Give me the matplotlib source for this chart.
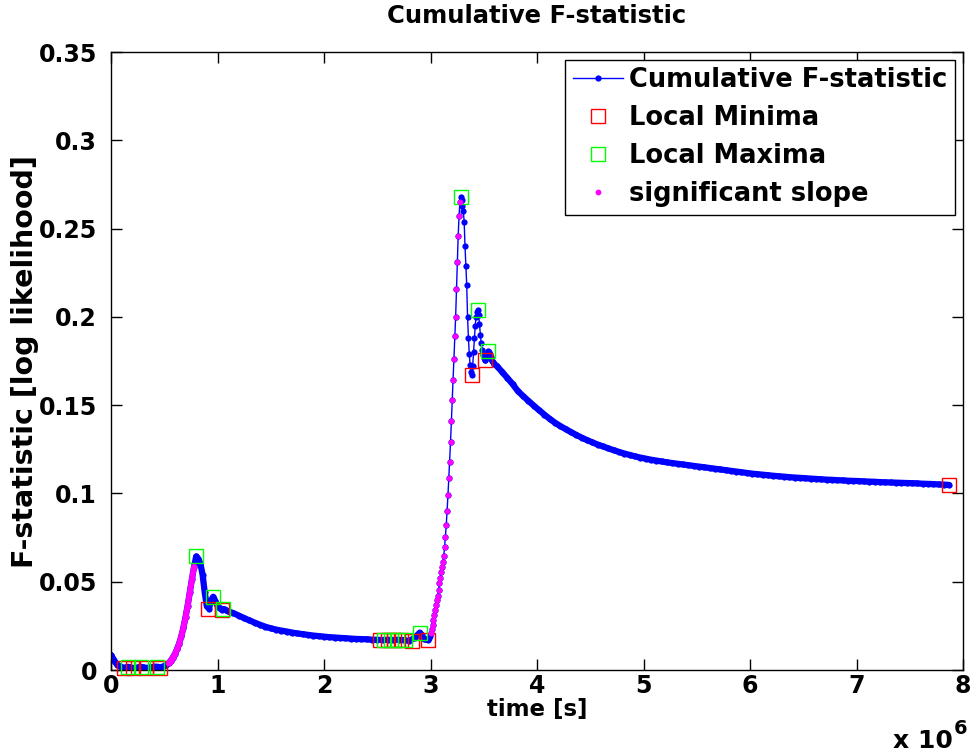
import numpy as np
import matplotlib
matplotlib.use("Agg")
import matplotlib.pyplot as plt

plt.rcParams['font.family'] = ['DejaVu Sans']
plt.rcParams['font.weight'] = 'bold'

# ---------------- data (time in units of 1e6 s) ----------------
# segment 1: t = 0.00 .. 1.10, step 0.02
seg1_start, seg1_step = 0.00, 0.02
seg1_F = [0.0085, 0.0065, 0.0045, 0.0030, 0.0021, 0.0015, 0.0012, 0.0015, 0.0018, 0.0015,
          0.0012, 0.0011, 0.0013, 0.0016, 0.0018, 0.0016, 0.0013, 0.0012, 0.0014, 0.0016,
          0.0018, 0.0019, 0.0018, 0.0014, 0.0017, 0.0023, 0.0030, 0.0038, 0.0052, 0.0070,
          0.0090, 0.0118, 0.0150, 0.0190, 0.0240, 0.0300, 0.0365, 0.0440, 0.0515, 0.0585,
          0.0643, 0.0630, 0.0600, 0.0540, 0.0440, 0.0360, 0.0348, 0.0395, 0.0415, 0.0390,
          0.0362, 0.0350, 0.0342, 0.0345, 0.0339, 0.0332]

# segment 2: t = 1.15 .. 2.85, step 0.05
seg2_start, seg2_step = 1.15, 0.05
seg2_F = [0.0322, 0.0308, 0.0294, 0.0281, 0.0268, 0.0256, 0.0245, 0.0236, 0.0229, 0.0223,
          0.0218, 0.0212, 0.0207, 0.0203, 0.0199, 0.0195, 0.0192, 0.0189, 0.0186, 0.0184,
          0.0182, 0.0180, 0.0178, 0.0176, 0.0175, 0.0174, 0.0172, 0.0171, 0.0170, 0.0171,
          0.0170, 0.0171, 0.0169, 0.0165, 0.0182]

# segment 3: t = 2.900 .. 3.596, step 0.008
seg3_start, seg3_step = 2.90, 0.008
seg3_F = [0.0212, 0.0205, 0.0196, 0.0188, 0.0182, 0.0178, 0.0176, 0.0175, 0.0174, 0.0173,
          0.0172, 0.0180, 0.0193, 0.0210, 0.0230, 0.0255, 0.0283, 0.0310, 0.0340, 0.0370,
          0.0395, 0.0418, 0.0455, 0.0490, 0.0523, 0.0555, 0.0585, 0.0610, 0.0645, 0.0695,
          0.0755, 0.0820, 0.0900, 0.0990, 0.1090, 0.1180, 0.1290, 0.1410, 0.1530, 0.1640,
          0.1760, 0.1890, 0.2000, 0.2160, 0.2310, 0.2460, 0.2570, 0.2650, 0.2680, 0.2660,
          0.2630, 0.2600, 0.2540, 0.2400, 0.2290, 0.2180, 0.2000, 0.1880, 0.1790, 0.1725,
          0.1685, 0.1670, 0.1720, 0.1800, 0.1880, 0.1950, 0.2000, 0.2030, 0.2040, 0.2010,
          0.1960, 0.1900, 0.1850, 0.1810, 0.1785, 0.1768, 0.1758, 0.1756, 0.1775, 0.1795,
          0.1808, 0.1802, 0.1790, 0.1775, 0.1762, 0.1750, 0.1742, 0.1735]

# segment 4: t = 3.62 .. 7.87, step 0.05
seg4_start, seg4_step = 3.62, 0.05
seg4_F = [0.1723, 0.1690, 0.1655, 0.1620, 0.1580, 0.1551, 0.1524, 0.1497, 0.1471, 0.1446,
          0.1422, 0.1400, 0.1381, 0.1364, 0.1347, 0.1331, 0.1316, 0.1302, 0.1289, 0.1277,
          0.1266, 0.1255, 0.1245, 0.1235, 0.1226, 0.1218, 0.1210, 0.1203, 0.1197, 0.1191,
          0.1186, 0.1181, 0.1176, 0.1172, 0.1168, 0.1164, 0.1160, 0.1156, 0.1152, 0.1148,
          0.1144, 0.1140, 0.1136, 0.1132, 0.1128, 0.1124, 0.1120, 0.1116, 0.1112, 0.1109,
          0.1106, 0.1103, 0.1100, 0.1097, 0.1095, 0.1092, 0.1090, 0.1088, 0.1086, 0.1084,
          0.1082, 0.1080, 0.1078, 0.1077, 0.1075, 0.1074, 0.1072, 0.1071, 0.1070, 0.1068,
          0.1067, 0.1066, 0.1064, 0.1063, 0.1062, 0.1061, 0.1060, 0.1059, 0.1058, 0.1057,
          0.1055, 0.1054, 0.1053, 0.1051, 0.1050, 0.1048]

# local minima / maxima (t in 1e6 s)
min_t = [0.125, 0.21, 0.33, 0.46, 0.915, 1.04, 2.53, 2.60, 2.66, 2.72, 2.83, 2.98, 3.388, 3.514, 7.87]
min_F = [0.0012, 0.0011, 0.0012, 0.0014, 0.0345, 0.0342, 0.0172, 0.0171, 0.0170, 0.0170,
         0.0164, 0.0172, 0.1670, 0.1756, 0.1048]
max_t = [0.155, 0.28, 0.43, 0.80, 0.96, 1.055, 2.56, 2.63, 2.69, 2.76, 2.90, 3.284, 3.444, 3.540]
max_F = [0.0018, 0.0018, 0.0019, 0.0643, 0.0415, 0.0345, 0.0172, 0.0172, 0.0171, 0.0171,
         0.0212, 0.2680, 0.2040, 0.1808]

# time ranges flagged as significant slope
sig_ranges = [(0.53, 0.79), (3.00, 3.28)]

x_ticks = [0, 1, 2, 3, 4, 5, 6, 7, 8]
y_ticks = [0, 0.05, 0.1, 0.15, 0.2, 0.25, 0.3, 0.35]
y_ticklabels = ['0', '0.05', '0.1', '0.15', '0.2', '0.25', '0.3', '0.35']

# ---------------- build series ----------------
def seg(start, step, vals):
    return np.round(start + step * np.arange(len(vals)), 4) * 1e6, np.array(vals)

s1, s2, s3, s4 = (seg(seg1_start, seg1_step, seg1_F), seg(seg2_start, seg2_step, seg2_F),
                  seg(seg3_start, seg3_step, seg3_F), seg(seg4_start, seg4_step, seg4_F))
t = np.concatenate([s1[0], s2[0], s3[0], s4[0]])
F = np.concatenate([s1[1], s2[1], s3[1], s4[1]])

def sig_mask(tt):
    m = np.zeros_like(tt, dtype=bool)
    for a, b in sig_ranges:
        m |= (tt >= a * 1e6 - 1) & (tt <= b * 1e6 + 1)
    return m

mask = sig_mask(t)

BLUE, RED, GREEN, MAG = (0, 0, 1), (1, 0, 0), (0, 1, 0), (1, 0, 1)
DOT = 4.5

# ---------------- plot ----------------
fig = plt.figure(figsize=(9.75, 7.56), dpi=100)
ax = fig.add_axes([111 / 975, 1 - 670 / 756, (963 - 111) / 975, (670 - 52) / 756])

# densely sampled stretches: overlapping dots render as a continuous band
t_a = np.concatenate([s1[0], s2[0], s3[0][:1]])
F_a = np.concatenate([s1[1], s2[1], s3[1][:1]])
t_b = np.concatenate([s3[0][-1:], s4[0]])
F_b = np.concatenate([s3[1][-1:], s4[1]])
for tt, ff in ((t_a, F_a), (t_b, F_b)):
    ax.plot(tt, ff, '-', color=BLUE, lw=DOT, solid_capstyle='round',
            solid_joinstyle='round', zorder=2)
m_a = sig_mask(t_a)
ax.plot(t_a[m_a], F_a[m_a], '-', color=MAG, lw=DOT - 0.3, solid_capstyle='round',
        solid_joinstyle='round', zorder=3.5)

ax.plot(t, F, '-', color=BLUE, lw=1.0, marker='o', ms=DOT, mew=0,
        mfc=BLUE, label='Cumulative F-statistic', zorder=2)
ax.plot(np.array(min_t) * 1e6, min_F, linestyle='none', marker='s', ms=10, mfc='none',
        mec=RED, mew=1.0, label='Local Minima', clip_on=False, zorder=3)
ax.plot(np.array(max_t) * 1e6, max_F, linestyle='none', marker='s', ms=10, mfc='none',
        mec=GREEN, mew=1.0, label='Local Maxima', clip_on=False, zorder=3)
ax.plot(t[mask], F[mask], linestyle='none', marker='o', ms=4.2, mew=0,
        mfc=MAG, label='significant slope', zorder=4)

ax.set_xlim(0, 8e6)
ax.set_ylim(0, 0.35)
ax.set_xticks(np.array(x_ticks) * 1e6)
ax.set_xticklabels([str(v) for v in x_ticks])
ax.set_yticks(y_ticks)
ax.set_yticklabels(y_ticklabels)
ax.tick_params(direction='in', length=8, width=1.0, top=True, right=True, labelsize=17)
ax.tick_params(axis='x', pad=3)
ax.tick_params(axis='y', pad=10)
for sp in ax.spines.values():
    sp.set_linewidth(1.0)

ax.set_xlabel('time [s]', fontsize=16.5, fontweight='bold', labelpad=0)
ax.set_ylabel('F-statistic [log likelihood]', fontsize=20.5, fontweight='bold', labelpad=0)
ax.set_title('Cumulative F-statistic', fontsize=17.5, fontweight='bold', pad=21)

fig.text(893 / 975, 1 - 748 / 756, 'x 10', fontsize=18, fontweight='bold',
         ha='left', va='baseline')
fig.text(954 / 975, 1 - 734 / 756, '6', fontsize=14, fontweight='bold',
         ha='left', va='baseline')

leg = ax.legend(loc='upper right', fontsize=18.5, frameon=True, fancybox=False,
                framealpha=1, edgecolor='black', borderaxespad=0.3,
                handlelength=1.95, labelspacing=0.46, numpoints=1, borderpad=0.3,
                handletextpad=0.25)
leg.get_frame().set_linewidth(1.0)

fig.savefig('out.png', dpi=100)
